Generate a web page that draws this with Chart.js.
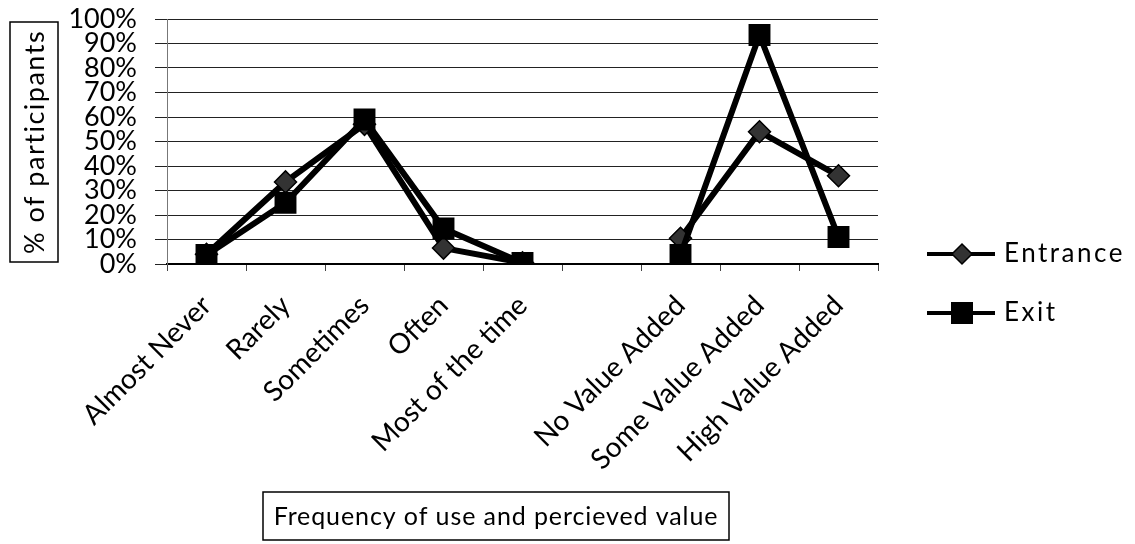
<!DOCTYPE html>
<html>
<head>
<meta charset="utf-8">
<script src="https://cdn.jsdelivr.net/npm/chart.js@4.4.0/dist/chart.umd.min.js"></script>
<style>
  html, body { margin: 0; padding: 0; background: #fff; }
</style>
</head>
<body>
<canvas id="chart" width="1135" height="544"></canvas>
<script>
// Data
const categories = ['Almost Never', 'Rarely', 'Sometimes', 'Often', 'Most of the time', '',
                    'No Value Added', 'Some Value Added', 'High Value Added'];
const entranceValues = [4, 33.5, 57, 6.5, 0.5, null, 10.5, 54, 36];
const exitValues     = [3.7, 25, 59, 14.5, 0.4, null, 3.7, 93.5, 11];
const seriesNames = ['Entrance', 'Exit'];
const yTitle = '% of participants';
const xTitle = 'Frequency of use and percieved value';

const FONT = 'Lato, "Open Sans", sans-serif';

// Boxed axis titles and the line+marker legend
const decorPlugin = {
    id: 'decor',
    afterDraw(chart) {
        const ctx = chart.ctx;
        ctx.save();
        ctx.fillStyle = '#000';
        ctx.strokeStyle = '#000';
        ctx.lineWidth = 1.5;

        // y title box
        ctx.strokeRect(10, 22, 48, 240);
        ctx.save();
        ctx.translate(35, 142);
        ctx.rotate(-Math.PI / 2);
        ctx.font = `27px ${FONT}`;
        ctx.letterSpacing = '1.5px';
        ctx.textAlign = 'center';
        ctx.textBaseline = 'middle';
        ctx.fillText(yTitle, 0, 0);
        ctx.restore();

        // x title box
        ctx.strokeRect(263, 492, 466, 48);
        ctx.font = `25px ${FONT}`;
        ctx.letterSpacing = '0.9px';
        ctx.textAlign = 'center';
        ctx.textBaseline = 'middle';
        ctx.fillText(xTitle, 496, 517);

        // legend
        const rows = [{ y: 254, style: 'diamond' }, { y: 313, style: 'square' }];
        rows.forEach((r, i) => {
            ctx.lineWidth = 4;
            ctx.beginPath();
            ctx.moveTo(927, r.y);
            ctx.lineTo(995, r.y);
            ctx.stroke();
            ctx.lineWidth = 1.5;
            if (r.style === 'diamond') {
                ctx.beginPath();
                ctx.moveTo(962, r.y - 10);
                ctx.lineTo(972, r.y);
                ctx.lineTo(962, r.y + 10);
                ctx.lineTo(952, r.y);
                ctx.closePath();
                ctx.fillStyle = '#333';
                ctx.fill();
                ctx.stroke();
            } else {
                ctx.fillStyle = '#000';
                ctx.fillRect(951, r.y - 11, 22, 22);
            }
            ctx.fillStyle = '#000';
            ctx.font = `26px ${FONT}`;
            ctx.letterSpacing = '2.5px';
            ctx.textAlign = 'left';
            ctx.textBaseline = 'middle';
            ctx.fillText(seriesNames[i], 1004, r.y);
        });
        ctx.restore();
    }
};

new Chart(document.getElementById('chart'), {
    type: 'line',
    data: {
        labels: categories,
        datasets: [
            {
                label: seriesNames[0],
                data: entranceValues,
                borderColor: '#000',
                borderWidth: 6,
                pointStyle: 'rectRot',
                pointRadius: 11,
                pointBackgroundColor: '#333',
                pointBorderColor: '#000',
                pointBorderWidth: 1.5,
                tension: 0,
                spanGaps: false,
                order: 1
            },
            {
                label: seriesNames[1],
                data: exitValues,
                borderColor: '#000',
                borderWidth: 6,
                pointStyle: 'rect',
                pointRadius: 15.5,
                pointBackgroundColor: '#000',
                pointBorderColor: '#000',
                pointBorderWidth: 0,
                tension: 0,
                spanGaps: false,
                order: 0
            }
        ]
    },
    options: {
        responsive: false,
        devicePixelRatio: 1,
        animation: false,
        layout: { padding: { top: 19, right: 257, bottom: 0, left: 0 } },
        plugins: {
            legend: { display: false },
            tooltip: { enabled: false }
        },
        scales: {
            x: {
                type: 'category',
                offset: true,
                afterFit: s => { s.height = 280; s.paddingLeft = 0; s.paddingRight = 0; },
                grid: {
                    offset: true,
                    drawOnChartArea: false,
                    drawTicks: true,
                    tickLength: 7,
                    color: '#444'
                },
                border: { color: '#000', width: 2 },
                ticks: {
                    autoSkip: false,
                    minRotation: 45,
                    maxRotation: 45,
                    padding: 18,
                    color: '#000',
                    font: { family: FONT, size: 28 }
                }
            },
            y: {
                min: 0,
                max: 100,
                afterFit: s => { s.width = 167; s.paddingTop = 0; s.paddingBottom = 0; },
                grid: {
                    color: '#222',
                    lineWidth: 1,
                    tickLength: 12
                },
                border: { color: '#777', width: 1 },
                ticks: {
                    stepSize: 10,
                    autoSkip: false,
                    padding: 18,
                    color: '#000',
                    font: { family: FONT, size: 27 },
                    callback: v => v + '%'
                }
            }
        }
    },
    plugins: [decorPlugin]
});
</script>
</body>
</html>
